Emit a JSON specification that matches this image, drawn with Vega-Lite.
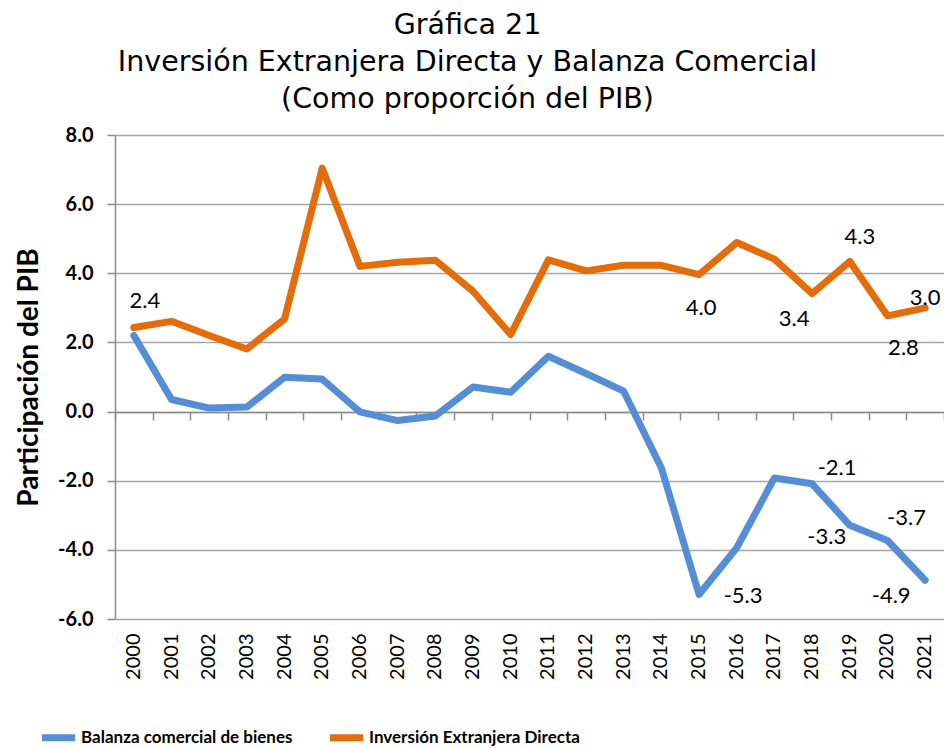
{
  "$schema": "https://vega.github.io/schema/vega-lite/v6.json",
  "width": 829,
  "height": 484,
  "autosize": "none",
  "padding": {"left": 115, "top": 135, "right": 0, "bottom": 129},
  "background": "white",
  "title": {
    "text": ["Gráfica 21", "Inversión Extranjera Directa y Balanza Comercial", "(Como proporción del PIB)"],
    "font": "DejaVu Sans", "fontSize": 28.5, "fontWeight": "normal", "lineHeight": 37,
    "anchor": "middle", "dx": -62, "offset": 12, "color": "black"
  },
  "config": {
    "view": {"stroke": null},
    "locale": {"number": {"decimal": ".", "thousands": ",", "grouping": [3], "currency": ["$", ""], "minus": "-"}}
  },
  "data": {"values": [
    {"year": "2000", "serie": "Balanza comercial de bienes", "value": 2.2},
    {"year": "2001", "serie": "Balanza comercial de bienes", "value": 0.35},
    {"year": "2002", "serie": "Balanza comercial de bienes", "value": 0.1},
    {"year": "2003", "serie": "Balanza comercial de bienes", "value": 0.13},
    {"year": "2004", "serie": "Balanza comercial de bienes", "value": 0.99},
    {"year": "2005", "serie": "Balanza comercial de bienes", "value": 0.94},
    {"year": "2006", "serie": "Balanza comercial de bienes", "value": -0.01},
    {"year": "2007", "serie": "Balanza comercial de bienes", "value": -0.26},
    {"year": "2008", "serie": "Balanza comercial de bienes", "value": -0.13},
    {"year": "2009", "serie": "Balanza comercial de bienes", "value": 0.71},
    {"year": "2010", "serie": "Balanza comercial de bienes", "value": 0.56},
    {"year": "2011", "serie": "Balanza comercial de bienes", "value": 1.6},
    {"year": "2012", "serie": "Balanza comercial de bienes", "value": 1.1},
    {"year": "2013", "serie": "Balanza comercial de bienes", "value": 0.59},
    {"year": "2014", "serie": "Balanza comercial de bienes", "value": -1.63},
    {"year": "2015", "serie": "Balanza comercial de bienes", "value": -5.29},
    {"year": "2016", "serie": "Balanza comercial de bienes", "value": -3.94},
    {"year": "2017", "serie": "Balanza comercial de bienes", "value": -1.92},
    {"year": "2018", "serie": "Balanza comercial de bienes", "value": -2.09},
    {"year": "2019", "serie": "Balanza comercial de bienes", "value": -3.29},
    {"year": "2020", "serie": "Balanza comercial de bienes", "value": -3.73},
    {"year": "2021", "serie": "Balanza comercial de bienes", "value": -4.88},
    {"year": "2000", "serie": "Inversión Extranjera Directa", "value": 2.43},
    {"year": "2001", "serie": "Inversión Extranjera Directa", "value": 2.61},
    {"year": "2002", "serie": "Inversión Extranjera Directa", "value": 2.2},
    {"year": "2003", "serie": "Inversión Extranjera Directa", "value": 1.81},
    {"year": "2004", "serie": "Inversión Extranjera Directa", "value": 2.68},
    {"year": "2005", "serie": "Inversión Extranjera Directa", "value": 7.04},
    {"year": "2006", "serie": "Inversión Extranjera Directa", "value": 4.2},
    {"year": "2007", "serie": "Inversión Extranjera Directa", "value": 4.32},
    {"year": "2008", "serie": "Inversión Extranjera Directa", "value": 4.38},
    {"year": "2009", "serie": "Inversión Extranjera Directa", "value": 3.48},
    {"year": "2010", "serie": "Inversión Extranjera Directa", "value": 2.23},
    {"year": "2011", "serie": "Inversión Extranjera Directa", "value": 4.39},
    {"year": "2012", "serie": "Inversión Extranjera Directa", "value": 4.07},
    {"year": "2013", "serie": "Inversión Extranjera Directa", "value": 4.23},
    {"year": "2014", "serie": "Inversión Extranjera Directa", "value": 4.23},
    {"year": "2015", "serie": "Inversión Extranjera Directa", "value": 3.96},
    {"year": "2016", "serie": "Inversión Extranjera Directa", "value": 4.89},
    {"year": "2017", "serie": "Inversión Extranjera Directa", "value": 4.41},
    {"year": "2018", "serie": "Inversión Extranjera Directa", "value": 3.41},
    {"year": "2019", "serie": "Inversión Extranjera Directa", "value": 4.34},
    {"year": "2020", "serie": "Inversión Extranjera Directa", "value": 2.77},
    {"year": "2021", "serie": "Inversión Extranjera Directa", "value": 3.0}
  ]},
  "resolve": {"axis": {"x": "independent"}},
  "layer": [
    {
      "mark": {"type": "line", "opacity": 0},
      "encoding": {
        "x": {"field": "year", "type": "ordinal", "sort": null,
          "scale": {"type": "band", "paddingInner": 0, "paddingOuter": 0},
          "axis": {"orient": "bottom", "title": null, "labelAngle": -90, "labelAlign": "right", "labelBaseline": "middle",
            "labelFont": "Lato", "labelFontSize": 20, "labelColor": "black", "labelPadding": 14,
            "domain": false, "ticks": false, "grid": false}},
        "y": {"field": "value", "type": "quantitative"},
        "detail": {"field": "serie"}
      }
    },
    {
      "mark": {"type": "line", "strokeWidth": 7, "strokeCap": "round", "strokeJoin": "round"},
      "encoding": {
        "x": {"field": "year", "type": "ordinal", "sort": null,
          "axis": {"orient": "bottom", "offset": -207, "labels": false, "title": null, "grid": false,
            "domain": true, "domainColor": "#8c8c8c", "domainWidth": 1.5, "ticks": true, "tickBand": "extent",
            "tickSize": 8, "tickColor": "#8c8c8c", "tickWidth": 1.5}},
        "y": {"field": "value", "type": "quantitative",
          "scale": {"domain": [-6, 8], "nice": false, "zero": false},
          "axis": {"values": [-6, -4, -2, 0, 2, 4, 6, 8], "format": ".1f", "grid": true, "gridColor": "#a6a6a6", "gridWidth": 1.3,
            "domainColor": "#8c8c8c", "domainWidth": 1.5, "tickColor": "#8c8c8c", "tickSize": 8, "tickWidth": 1.5,
            "labelFont": "Lato", "labelFontSize": 20, "labelFontWeight": "bold", "labelColor": "black", "labelPadding": 14,
            "title": "Participación del PIB", "titleFont": "Lato", "titleFontSize": 28, "titleFontWeight": "bold",
            "titleColor": "black", "titlePadding": 14}},
        "color": {"field": "serie", "type": "nominal",
          "scale": {"domain": ["Balanza comercial de bienes", "Inversión Extranjera Directa"], "range": ["#558ED5", "#E46C0A"]},
          "legend": {"orient": "none", "legendX": -77, "legendY": 582, "direction": "horizontal", "title": null,
            "symbolType": "stroke", "symbolStrokeWidth": 7, "symbolSize": 1100, "symbolOffset": 0,
            "labelFont": "Lato", "labelFontSize": 17, "labelFontWeight": "bold", "labelColor": "black", "labelLimit": 0,
            "labelOffset": 2, "columnPadding": 22}}
      }
    },
    {"transform": [{"filter": "datum.serie == 'Inversión Extranjera Directa' && datum.year == '2000'"}],
     "mark": {"type": "text", "font": "Lato", "fontSize": 22, "color": "black", "dx": 11, "dy": -27},
     "encoding": {"x": {"field": "year", "type": "ordinal", "axis": null}, "y": {"field": "value", "type": "quantitative"}, "text": {"field": "value", "format": ".1f"}}},
    {"transform": [{"filter": "datum.serie == 'Inversión Extranjera Directa' && datum.year == '2015'"}],
     "mark": {"type": "text", "font": "Lato", "fontSize": 22, "color": "black", "dx": 2, "dy": 33},
     "encoding": {"x": {"field": "year", "type": "ordinal", "axis": null}, "y": {"field": "value", "type": "quantitative"}, "text": {"field": "value", "format": ".1f"}}},
    {"transform": [{"filter": "datum.serie == 'Inversión Extranjera Directa' && datum.year == '2018'"}],
     "mark": {"type": "text", "font": "Lato", "fontSize": 22, "color": "black", "dx": -18, "dy": 25},
     "encoding": {"x": {"field": "year", "type": "ordinal", "axis": null}, "y": {"field": "value", "type": "quantitative"}, "text": {"field": "value", "format": ".1f"}}},
    {"transform": [{"filter": "datum.serie == 'Inversión Extranjera Directa' && datum.year == '2019'"}],
     "mark": {"type": "text", "font": "Lato", "fontSize": 22, "color": "black", "dx": 10, "dy": -25},
     "encoding": {"x": {"field": "year", "type": "ordinal", "axis": null}, "y": {"field": "value", "type": "quantitative"}, "text": {"field": "value", "format": ".1f"}}},
    {"transform": [{"filter": "datum.serie == 'Inversión Extranjera Directa' && datum.year == '2020'"}],
     "mark": {"type": "text", "font": "Lato", "fontSize": 22, "color": "black", "dx": 16, "dy": 32},
     "encoding": {"x": {"field": "year", "type": "ordinal", "axis": null}, "y": {"field": "value", "type": "quantitative"}, "text": {"field": "value", "format": ".1f"}}},
    {"transform": [{"filter": "datum.serie == 'Inversión Extranjera Directa' && datum.year == '2021'"}],
     "mark": {"type": "text", "font": "Lato", "fontSize": 22, "color": "black", "dx": 0, "dy": -10},
     "encoding": {"x": {"field": "year", "type": "ordinal", "axis": null}, "y": {"field": "value", "type": "quantitative"}, "text": {"field": "value", "format": ".1f"}}},
    {"transform": [{"filter": "datum.serie == 'Balanza comercial de bienes' && datum.year == '2015'"}],
     "mark": {"type": "text", "font": "Lato", "fontSize": 22, "color": "black", "dx": 44, "dy": 2},
     "encoding": {"x": {"field": "year", "type": "ordinal", "axis": null}, "y": {"field": "value", "type": "quantitative"}, "text": {"field": "value", "format": ".1f"}}},
    {"transform": [{"filter": "datum.serie == 'Balanza comercial de bienes' && datum.year == '2018'"}],
     "mark": {"type": "text", "font": "Lato", "fontSize": 22, "color": "black", "dx": 25, "dy": -16},
     "encoding": {"x": {"field": "year", "type": "ordinal", "axis": null}, "y": {"field": "value", "type": "quantitative"}, "text": {"field": "value", "format": ".1f"}}},
    {"transform": [{"filter": "datum.serie == 'Balanza comercial de bienes' && datum.year == '2019'"}],
     "mark": {"type": "text", "font": "Lato", "fontSize": 22, "color": "black", "dx": -23, "dy": 12},
     "encoding": {"x": {"field": "year", "type": "ordinal", "axis": null}, "y": {"field": "value", "type": "quantitative"}, "text": {"field": "value", "format": ".1f"}}},
    {"transform": [{"filter": "datum.serie == 'Balanza comercial de bienes' && datum.year == '2020'"}],
     "mark": {"type": "text", "font": "Lato", "fontSize": 22, "color": "black", "dx": 19, "dy": -23},
     "encoding": {"x": {"field": "year", "type": "ordinal", "axis": null}, "y": {"field": "value", "type": "quantitative"}, "text": {"field": "value", "format": ".1f"}}},
    {"transform": [{"filter": "datum.serie == 'Balanza comercial de bienes' && datum.year == '2021'"}],
     "mark": {"type": "text", "font": "Lato", "fontSize": 22, "color": "black", "dx": -34, "dy": 16},
     "encoding": {"x": {"field": "year", "type": "ordinal", "axis": null}, "y": {"field": "value", "type": "quantitative"}, "text": {"field": "value", "format": ".1f"}}}
  ]
}
